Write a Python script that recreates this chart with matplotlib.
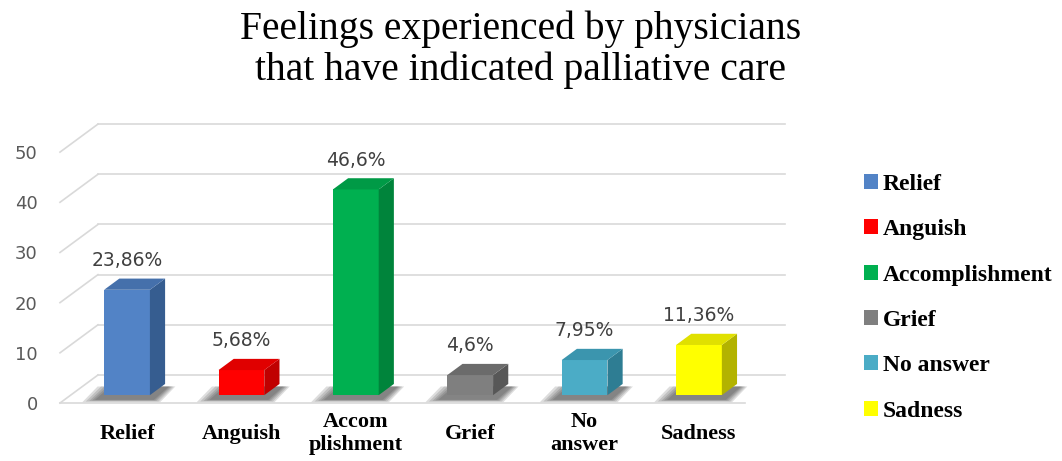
import matplotlib
matplotlib.use("Agg")
import matplotlib.pyplot as plt
from matplotlib.patches import Polygon, Patch
import numpy as np

# data (counts, n = 88)
categories = ["Relief", "Anguish", "Accomplishment", "Grief", "No answer", "Sadness"]
tick_labels = ["Relief", "Anguish", "Accom\nplishment", "Grief", "No\nanswer", "Sadness"]
counts = [21, 5, 41, 4, 7, 10]
pct_labels = ["23,86%", "5,68%", "46,6%", "4,6%", "7,95%", "11,36%"]
yticks = [0, 10, 20, 30, 40, 50]

front_colors = ["#5283c6", "#ff0000", "#00b050", "#7f7f7f", "#4bacc6", "#ffff00"]
side_colors = ["#365d90", "#c00000", "#00843b", "#575757", "#2e7d93", "#b3b300"]
top_colors = ["#4570ab", "#e00000", "#009a46", "#6b6b6b", "#3b95ae", "#e0e000"]

# fake 3d look: floor depth and bar depth in data units
DX, DY = 0.332, 5.58
D0, D1 = 0.28, 0.68
W = 0.40
XMIN, XMAX, FLOOR_END = -0.493, 5.845, 5.495

fig = plt.figure(figsize=(10.62, 4.61), dpi=100)
ax = fig.add_axes([60 / 1062, 58 / 461, 725 / 1062, 280 / 461])
ax.set_xlim(XMIN, XMAX)
ax.set_ylim(0, 55.8)

grid_c = "#d9d9d9"
for v in yticks:
    ax.plot([XMIN + DX, XMAX], [v + DY, v + DY], color=grid_c, lw=1.2, zorder=1, clip_on=False)
    ax.plot([XMIN, XMIN + DX], [v, v + DY], color=grid_c, lw=1.2, zorder=1, clip_on=False)
ax.plot([XMIN, FLOOR_END], [0, 0], color=grid_c, lw=1.2, zorder=1, clip_on=False)

x = np.arange(len(counts))
xc = x + D0 * DX
b0 = D0 * DY
bdx = (D1 - D0) * DX
bdy = (D1 - D0) * DY

for i, h in enumerate(counts):
    xl, xr = xc[i] - W / 2, xc[i] + W / 2
    # soft shadow on the floor, to the left of the bar
    for e in [0.12, 0.09, 0.06, 0.035, 0.01]:
        sx = -0.07
        pts = [(xl + sx - e, b0 - 0.9 - e * 4), (xr + sx + 0.1 + e * 0.5, b0 - 0.9 - e * 4),
               (xr + bdx + sx + 0.1 + e * 0.5, b0 + bdy - 0.5), (xl + bdx + sx - e, b0 + bdy - 0.5)]
        ax.add_patch(Polygon(pts, closed=True, facecolor="#303030", edgecolor="none",
                             alpha=0.16, zorder=2))
    ax.bar(xc[i], h, W, bottom=b0, color=front_colors[i], zorder=4)
    side = [(xr, b0), (xr + bdx, b0 + bdy), (xr + bdx, b0 + bdy + h), (xr, b0 + h)]
    top = [(xl, b0 + h), (xl + bdx, b0 + h + bdy), (xr + bdx, b0 + h + bdy), (xr, b0 + h)]
    ax.add_patch(Polygon(side, closed=True, facecolor=side_colors[i], edgecolor="none", zorder=4))
    ax.add_patch(Polygon(top, closed=True, facecolor=top_colors[i], edgecolor="none", zorder=4))
    ax.text(xc[i], b0 + h + bdy + 1.7, pct_labels[i], ha="center", va="bottom",
            fontsize=13.5, color="#404040", zorder=5)

for s in ax.spines.values():
    s.set_visible(False)
ax.set_yticks(yticks)
ax.set_yticklabels([str(v) for v in yticks], fontsize=13, color="#595959")
ax.set_xticks(xc)
ax.set_xticklabels(tick_labels, fontsize=16, family="Liberation Serif", fontweight="bold",
                   linespacing=1.25)
plt.setp(ax.get_xticklabels(), va="center")
ax.tick_params(axis="y", length=0, pad=16)
ax.tick_params(axis="x", length=0, pad=22)

fig.text(0.49, 1 - 10 / 461, "Feelings experienced by physicians\nthat have indicated palliative care",
         ha="center", va="top", fontsize=28.5, family="Liberation Serif", linespacing=1.13)

handles = [Patch(facecolor=c, edgecolor="none") for c in front_colors]
fig.legend(handles, categories, loc="upper left", bbox_to_anchor=(864 / 1062, 1 - 174 / 461),
           frameon=False, prop={"family": "Liberation Serif", "weight": "bold", "size": 17},
           handlelength=0.6, handleheight=0.6, handletextpad=0.2, labelspacing=1.03,
           borderaxespad=0, borderpad=0)

fig.savefig("out.png", dpi=100, facecolor="white")
